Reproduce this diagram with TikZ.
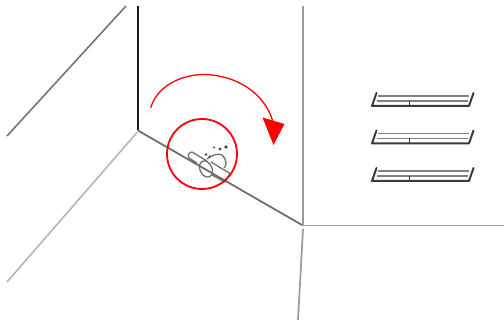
\documentclass[tikz,border=0pt]{standalone}
\usetikzlibrary{calc}
\definecolor{wallblack}{HTML}{1A1A1A}
\definecolor{walldark}{HTML}{6E6E6E}
\definecolor{wallgray}{HTML}{9A9A9A}
\definecolor{walllight}{HTML}{B4B4B4}
\definecolor{pipegray}{HTML}{707070}
\definecolor{shelfdark}{HTML}{3A3A3A}
\definecolor{shelfgray}{HTML}{808080}
\definecolor{markred}{HTML}{FF0000}
\tikzset{
  pipeline/.style={pipegray,line width=1.3pt},
  shelfline/.style={shelfgray,line width=1.5pt},
  shelfbase/.style={shelfdark,line width=2pt,line cap=round,line join=round},
  markline/.style={markred,line width=1.8pt}
}

\begin{document}
\begin{tikzpicture}[x=1pt,y=-1pt]
\useasboundingbox (0,0) rectangle (504,323);

% Room edges
\draw[walldark,line width=1.5pt] (126,6) -- (7,136);
\draw[wallblack,line width=1.8pt] (138,6) -- (138,130.5);
\draw[walldark,line width=1.8pt] (138,130.5) -- (302,225);
\draw[walllight,line width=1.6pt] (137,132.5) -- (7,282);
\draw[wallgray,line width=1.7pt] (303,6) -- (303,225);
\draw[wallgray,line width=1.7pt] (302,225.5) -- (504,225.5);
\draw[wallgray,line width=1.7pt] (303,229) -- (298,320);

% Pipe
\draw[pipeline] (207,159) .. controls (212,155) and (219,153) .. (222,155) .. controls (227,159) and (227,166) .. (224,168);
\draw[pipeline] (197,163) -- (189,158) .. controls (187,156) and (189,152) .. (192,152) -- (207,161);
\draw[pipeline,rotate around={25:(206,169)}] (206,169) ellipse (6 and 8.5);
\draw[pipeline] (211,162) -- (230,173.5) -- (225,182) -- (212,175);

% Drops
\fill[wallblack!80] (206,154.5) circle (1.3);
\fill[wallblack!80] (209.5,156.5) circle (1.1);
\fill[wallblack!80] (214,147.5) circle (1.2);
\fill[wallblack!80] (220,149) circle (1.6);
\fill[wallblack!80] (226,147) circle (1.9);

% Rotation mark
\draw[markline] (202,154) circle (35);
\draw[markred,line width=1.3pt] (150.7,107.7) .. controls (158,84) and (184,74.5) .. (204,74.5) .. controls (236,75) and (265,93) .. (273,122);
\fill[markred] (262.5,117.5) -- (284.5,124) -- (273.5,145) -- cycle;

% Shelf 1
\draw[shelfline] (378,96) -- (469,96);
\draw[shelfline] (377,101) -- (468,101);
\draw[shelfbase] (376.5,93) -- (372,106) -- (469,106) -- (473.5,93);
\draw[shelfdark,line width=1pt] (409,101) -- (409,106);

% Shelf 2
\draw[shelfline] (378,133.5) -- (469,133.5);
\draw[shelfline] (377,138.5) -- (468,138.5);
\draw[shelfbase] (376.5,130.5) -- (372,143.5) -- (469,143.5) -- (473.5,130.5);
\draw[shelfdark,line width=1pt] (409,138.5) -- (409,143.5);

% Shelf 3
\draw[shelfline] (378,171) -- (469,171);
\draw[shelfline] (377,176) -- (468,176);
\draw[shelfbase] (376.5,168) -- (372,181) -- (469,181) -- (473.5,168);
\draw[shelfdark,line width=1pt] (409,176) -- (409,181);
\end{tikzpicture}
\end{document}
